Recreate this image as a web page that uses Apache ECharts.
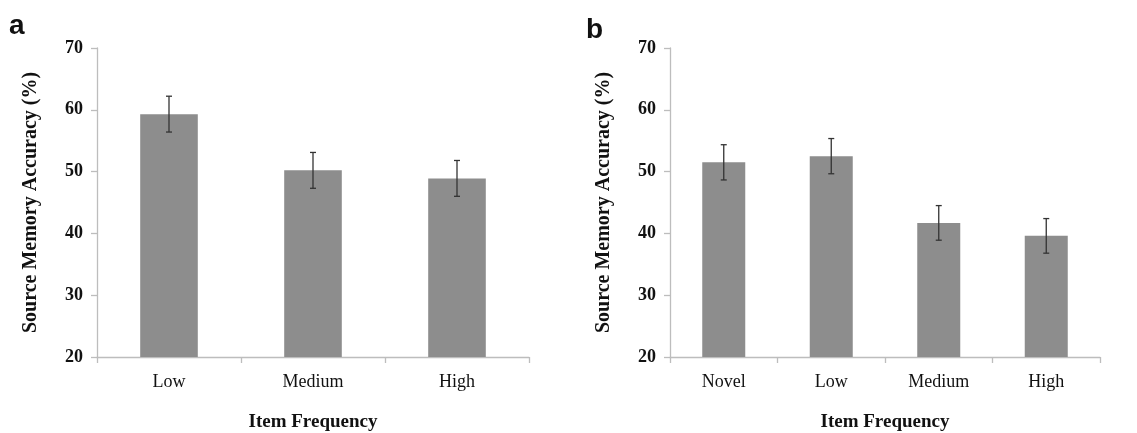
<!DOCTYPE html>
<html><head><meta charset="utf-8">
<script src="https://cdn.jsdelivr.net/npm/echarts@6/dist/echarts.min.js"></script>
<style>html,body{margin:0;padding:0;background:#fff}#c{width:1137px;height:433px}</style>
</head><body><div id="c"></div>
<script>
const categoriesA = ['Low', 'Medium', 'High'];
const meansA = [59.3, 50.2, 48.9];
const errA = [2.9, 2.9, 2.9];
const categoriesB = ['Novel', 'Low', 'Medium', 'High'];
const meansB = [51.5, 52.5, 41.7, 39.6];
const errB = [2.85, 2.85, 2.8, 2.8];
const yTicks = [20, 30, 40, 50, 60, 70];

const serif = '"Liberation Serif", "DejaVu Serif", serif';
const chart = echarts.init(document.getElementById('c'));

function errSeries(idx, cats, means, errs) {
  return {
    type: 'custom', xAxisIndex: idx, yAxisIndex: idx, z: 5,
    data: cats.map((c, i) => [i, means[i] - errs[i], means[i] + errs[i]]),
    renderItem: function (params, api) {
      const lo = api.coord([api.value(0), api.value(1)]);
      const hi = api.coord([api.value(0), api.value(2)]);
      const w = 3;
      const st = { stroke: '#333', lineWidth: 1.3 };
      return { type: 'group', children: [
        { type: 'line', shape: { x1: lo[0], y1: lo[1], x2: hi[0], y2: hi[1] }, style: st },
        { type: 'line', shape: { x1: lo[0] - w, y1: lo[1], x2: lo[0] + w, y2: lo[1] }, style: st },
        { type: 'line', shape: { x1: hi[0] - w, y1: hi[1], x2: hi[0] + w, y2: hi[1] }, style: st }
      ]};
    }
  };
}

function xAx(idx, cats) {
  return {
    type: 'category', gridIndex: idx, data: cats,
    name: 'Item Frequency', nameLocation: 'middle', nameGap: 56,
    nameTextStyle: { fontFamily: serif, fontWeight: 'bold', fontSize: 19, color: '#111' },
    axisLine: { lineStyle: { color: '#bdbdbd', width: 1.3 } },
    axisTick: { show: true, length: 6, lineStyle: { color: '#bdbdbd', width: 1.3 } },
    axisLabel: { fontFamily: serif, fontSize: 18, color: '#111', margin: 16 }
  };
}
function yAx(idx) {
  return {
    type: 'value', gridIndex: idx, min: yTicks[0], max: yTicks[yTicks.length - 1], interval: 10,
    name: 'Source Memory Accuracy (%)', nameLocation: 'middle', nameGap: 56,
    nameTextStyle: { fontFamily: serif, fontWeight: 'bold', fontSize: 20, color: '#111' },
    axisLine: { show: true, lineStyle: { color: '#bdbdbd', width: 1.3 } },
    axisTick: { show: true, length: 6, lineStyle: { color: '#bdbdbd', width: 1.3 } },
    axisLabel: { fontFamily: serif, fontWeight: 'bold', fontSize: 18, color: '#111', margin: 14 },
    splitLine: { show: false }
  };
}

chart.setOption({
  animation: false,
  backgroundColor: '#fff',
  grid: [
    { left: 97, top: 48, width: 432, height: 309, outerBoundsMode: 'none', containLabel: false },
    { left: 670, top: 48, width: 430, height: 309, outerBoundsMode: 'none', containLabel: false }
  ],
  xAxis: [xAx(0, categoriesA), xAx(1, categoriesB)],
  yAxis: [yAx(0), yAx(1)],
  graphic: [
    { type: 'text', left: 9, top: 12, style: { text: 'a', font: 'bold 28px "Liberation Sans", Arial, sans-serif', fill: '#111' } },
    { type: 'text', left: 586, top: 16, style: { text: 'b', font: 'bold 28px "Liberation Sans", Arial, sans-serif', fill: '#111' } }
  ],
  series: [
    { type: 'bar', xAxisIndex: 0, yAxisIndex: 0, data: meansA, barWidth: '40%', itemStyle: { color: '#8d8d8d' } },
    { type: 'bar', xAxisIndex: 1, yAxisIndex: 1, data: meansB, barWidth: '40%', itemStyle: { color: '#8d8d8d' } },
    errSeries(0, categoriesA, meansA, errA),
    errSeries(1, categoriesB, meansB, errB)
  ]
});
</script></body></html>
